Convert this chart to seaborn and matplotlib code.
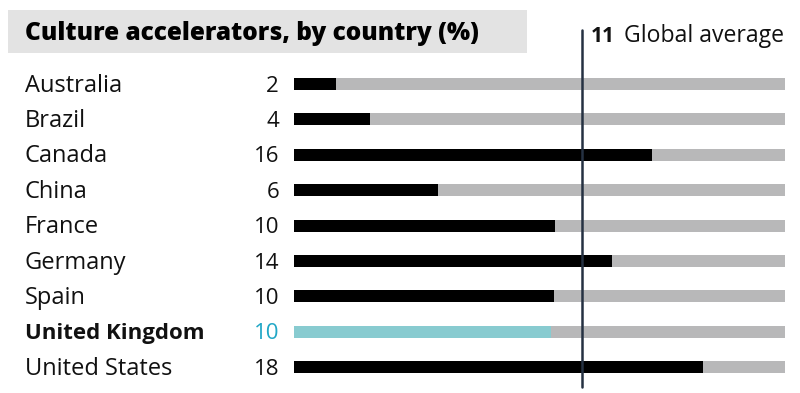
import matplotlib
matplotlib.use("Agg")
import matplotlib.pyplot as plt
import matplotlib.transforms as mtransforms
from matplotlib.patches import Rectangle
import seaborn as sns
import pandas as pd

# ---- data ----
countries = ["Australia", "Brazil", "Canada", "China", "France", "Germany",
             "Spain", "United Kingdom", "United States"]
values = [2, 4, 16, 6, 10, 14, 10, 10, 18]                 # printed labels (%)
bar_fill = [8.6, 15.5, 72.9, 29.5, 53.3, 64.9, 52.9, 52.3, 83.4]  # bar length, % of track
track_max = 100
global_avg = 11
global_avg_pos = 58.6                                    # line position, % of track
title = "Culture accelerators, by country (%)"
highlight = "United Kingdom"

BLACK = "#000000"
GRAY = "#b8b8b9"
TEAL_BAR = "#88cbd0"
TEAL_TXT = "#21a7c6"
LINE = "#253142"

W, H = 800, 393
sns.set_theme(style="white")
plt.rcParams["font.family"] = ["Open Sans", "DejaVu Sans"]

fig = plt.figure(figsize=(W / 100, H / 100), dpi=100)

def fx(px):
    return px / W

def fy(py):
    return 1 - py / H

# axes placement (pixel geometry)
row0, rowN = 84.0, 367.3
step = (rowN - row0) / 8
top_px = row0 - step / 2
bot_px = rowN + step / 2
ax = fig.add_axes([fx(293.5), fy(bot_px), fx(785) - fx(293.5), (bot_px - top_px) / H])

df = pd.DataFrame({"country": countries, "fill": bar_fill,
                   "track": [track_max] * len(countries)})
palette = {c: (TEAL_BAR if c == highlight else BLACK) for c in countries}

sns.barplot(data=df, x="track", y="country", orient="h", color=GRAY,
            width=0.34, ax=ax, saturation=1, linewidth=0)
sns.barplot(data=df, x="fill", y="country", hue="country", palette=palette,
            orient="h", width=0.34, ax=ax, saturation=1, linewidth=0, legend=False)

ax.set_xlim(0, track_max)
ax.set_ylim(len(countries) - 0.5, -0.5)
ax.axis("off")

# global average line
ax.plot([global_avg_pos, global_avg_pos], [-0.5 - (top_px - 30) / step, 8.5 + (386.5 - bot_px) / step],
        color=LINE, lw=1.8, clip_on=False, zorder=5)

# labels
base_off = 7.5 / step
trans = mtransforms.blended_transform_factory(fig.transFigure, ax.transData)
for i, (c, v) in enumerate(zip(countries, values)):
    hl = c == highlight
    ax.text(fx(25), i + base_off, c, transform=trans, ha="left", va="baseline",
            fontsize=16.0 if hl else 17.0, color="#111111",
            fontweight="bold" if hl else "normal")
    ax.text(fx(279), i + base_off, str(v), transform=trans, ha="right", va="baseline",
            fontsize=16, color=TEAL_TXT if hl else "#111111")

# title box
fig.patches.append(Rectangle((fx(8), fy(53)), fx(527) - fx(8), (53 - 10) / H,
                             transform=fig.transFigure, facecolor="#e3e3e3",
                             edgecolor="none", zorder=0))
fig.text(fx(25), fy(40), title, ha="left", va="baseline", fontsize=17.6,
         fontweight=800, family=["Open Sans", "DejaVu Sans"], color="#000000")

# global average label
fig.text(fx(591), fy(42.5), str(global_avg), ha="left", va="baseline", fontsize=15,
         fontweight="bold", color="#111111")
fig.text(fx(624), fy(42.5), "Global average", ha="left", va="baseline", fontsize=16.6,
         color="#111111")

fig.savefig("out.png", dpi=100)
